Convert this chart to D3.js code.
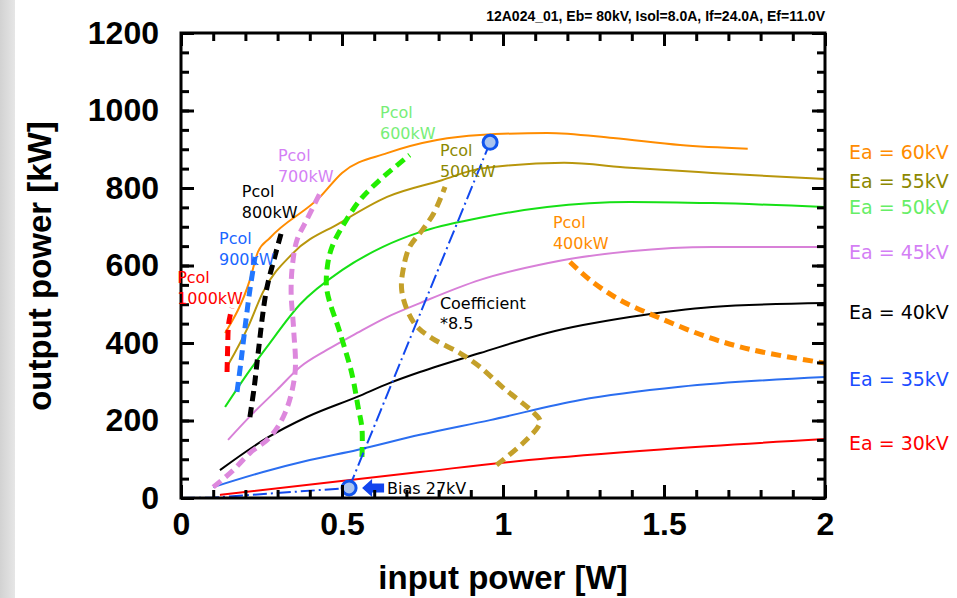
<!DOCTYPE html>
<html>
<head>
<meta charset="utf-8">
<script src="https://cdn.jsdelivr.net/npm/d3@7"></script>
<style>
  body { margin: 0; background: #fff; }
  svg { display: block; }
</style>
</head>
<body>
<div id="chart"></div>
<script>
const title = '12A024_01, Eb= 80kV, Isol=8.0A, If=24.0A, Ef=11.0V';
const xTicks = [0, 0.5, 1, 1.5, 2];
const yTicks = [0, 200, 400, 600, 800, 1000, 1200];

// output power vs input power, one curve per anode voltage  [W, kW]
const ea60 = [[0.137,426],[0.214,563],[0.239,635],[0.276,671],[0.432,777],[0.5,839],[0.64,890],[0.795,924],[0.929,937],[1.137,942],[1.342,929],[1.55,911],[1.76,901]];
const ea55 = [[0.146,343],[0.208,441],[0.255,532],[0.348,632],[0.494,710],[0.64,777],[0.81,820],[0.929,850],[1.19,865],[1.394,852],[1.65,839],[2.0,823]];
const ea50 = [[0.137,235],[0.214,330],[0.267,390],[0.37,500],[0.5,588],[0.627,648],[0.742,686],[0.929,723],[1.137,751],[1.394,764],[1.65,761],[2.0,751]];
const ea45 = [[0.146,150],[0.224,219],[0.298,279],[0.37,338],[0.453,382],[0.547,426],[0.64,467],[0.742,503],[0.929,563],[1.137,606],[1.394,637],[1.65,648],[2.0,648]];
const ea40 = [[0.121,72],[0.267,155],[0.391,209],[0.547,261],[0.649,297],[0.742,325],[0.929,374],[1.137,426],[1.394,467],[1.65,493],[2.0,503]];
const ea35 = [[0.1,28],[0.255,67],[0.4,98],[0.547,124],[0.742,163],[0.96,201],[1.24,253],[1.55,287],[2.0,312]];
const ea30 = [[0.121,8],[0.742,67],[1.08,98],[1.5,126],[2.0,152]];
const eaLabels = ['Ea = 60kV','Ea = 55kV','Ea = 50kV','Ea = 45kV','Ea = 40kV','Ea = 35kV','Ea = 30kV'];

// constant collector power contours
const pcol1000 = [[0.143,325],[0.145,390],[0.148,450],[0.158,490]];
const pcol900 = [[0.174,274],[0.186,350],[0.199,441],[0.214,537],[0.23,622]];
const pcol800 = [[0.214,209],[0.228,290],[0.239,370],[0.265,535],[0.292,625],[0.314,692]];
const pcol700 = [[0.1,28],[0.16,70],[0.214,116],[0.276,157],[0.323,219],[0.354,322],[0.35,433],[0.342,530],[0.346,600],[0.36,665],[0.39,717],[0.432,787]];
const pcol600 = [[0.562,106],[0.562,180],[0.55,235],[0.53,323],[0.494,426],[0.453,537],[0.455,600],[0.469,648],[0.5,699],[0.556,769],[0.618,821],[0.71,885]];
const pcol500 = [[0.98,85],[1.06,140],[1.11,185],[1.115,200],[1.093,222],[1.0,285],[0.929,338],[0.866,374],[0.78,412],[0.73,445],[0.70,490],[0.685,540],[0.69,590],[0.71,648],[0.75,692],[0.785,735],[0.82,803]];
const pcol400 = [[1.208,609],[1.27,563],[1.363,511],[1.488,464],[1.633,416],[1.776,382],[2.0,348]];
const pcolLabels = ['1000kW','900kW','800kW','700kW','600kW','500kW','400kW'];

// load line, coefficient *8.5
const biasLine = [[0,0],[0.1,1],[0.522,26]];
const coefLine = [[0.522,26],[0.96,918]];
const biasLabel = 'Bias 27kV';

const width = 957, height = 598;
const x = d3.scaleLinear().domain([0, 2]).range([181, 825]);
const y = d3.scaleLinear().domain([0, 1200]).range([498, 33]);

const svg = d3.select('#chart').append('svg')
  .attr('width', width).attr('height', height);

// gray strip at the left edge
const grad = svg.append('defs').append('linearGradient').attr('id', 'strip');
grad.append('stop').attr('offset', '0%').attr('stop-color', '#d2d2d2');
grad.append('stop').attr('offset', '100%').attr('stop-color', '#e6e6e6');
svg.append('rect').attr('x', 0).attr('y', 0).attr('width', 15).attr('height', height).attr('fill', 'url(#strip)');

const line = d3.line().x(d => x(d[0])).y(d => y(d[1]));
const eaLine = d3.line().x(d => x(d[0])).y(d => y(d[1])).curve(d3.curveMonotoneX);
const dashLine = d3.line().x(d => x(d[0])).y(d => y(d[1])).curve(d3.curveCatmullRom);

const eaSeries = [ea60, ea55, ea50, ea45, ea40, ea35, ea30];
const eaColors = ['#ff8c00', '#b8960c', '#16e016', '#d880d8', '#000000', '#2b6ef0', '#ff0000'];
const eaTextColors = ['#ff8c00', '#8c8800', '#66ee66', '#d47ff5', '#000000', '#1a4cff', '#ff0000'];
const eaLabelY = [893, 818, 751, 635, 480, 305, 142];

svg.append('g').selectAll('path')
  .data(eaSeries)
  .enter().append('path')
  .attr('d', eaLine)
  .attr('fill', 'none')
  .attr('stroke', (_, i) => eaColors[i])
  .attr('stroke-width', 2)
  .attr('stroke-linejoin', 'round');

const pcolSeries = [pcol1000, pcol900, pcol800, pcol700, pcol600, pcol500, pcol400];
const pcolColors = ['#ff0000', '#2277ff', '#000000', '#dd88dd', '#22ee00', '#c4a02a', '#ff8c00'];
const pcolTextColors = ['#ff0000', '#1a66ff', '#000000', '#d47ff5', '#77ee77', '#8c8800', '#ff8c00'];
const pcolLabelPos = [[-0.012,570],[0.118,671],[0.189,790],[0.301,885],[0.618,994],[0.804,898],[1.155,710]];

svg.append('g').selectAll('path')
  .data(pcolSeries)
  .enter().append('path')
  .attr('d', dashLine)
  .attr('fill', 'none')
  .attr('stroke', (_, i) => pcolColors[i])
  .attr('stroke-width', 5)
  .attr('stroke-dasharray', '10,6');

// coefficient line with bias point
const dashDot = '14,4,2,4';
svg.append('path').attr('d', line(biasLine))
  .attr('fill', 'none').attr('stroke', '#1148ee').attr('stroke-width', 2).attr('stroke-dasharray', dashDot);
svg.append('path').attr('d', line(coefLine))
  .attr('fill', 'none').attr('stroke', '#1148ee').attr('stroke-width', 2).attr('stroke-dasharray', dashDot);

svg.append('g').selectAll('circle')
  .data(coefLine)
  .enter().append('circle')
  .attr('cx', d => x(d[0])).attr('cy', d => y(d[1]))
  .attr('r', 7)
  .attr('fill', '#aac4ee')
  .attr('stroke', '#1155ee')
  .attr('stroke-width', 3);

// arrow pointing at the bias point
const bx = x(biasLine[2][0]) + 13, by = y(biasLine[2][1]);
svg.append('path')
  .attr('d', `M${bx},${by} L${bx+10},${by-9} L${bx+10},${by-4.5} L${bx+22},${by-4.5} L${bx+22},${by+4.5} L${bx+10},${by+4.5} L${bx+10},${by+9} Z`)
  .attr('fill', '#1144ee');
svg.append('text')
  .attr('x', bx + 25).attr('y', by)
  .attr('dy', '0.35em')
  .style('font-family', 'DejaVu Sans')
  .style('font-size', '16px')
  .text(biasLabel);

// plot frame and ticks
const frame = svg.append('g');
const xMinor = d3.range(0, 2.0001, 0.1);
const yMinor = d3.range(0, 1200.001, 50);
const addTicks = (axis, vals, size) => frame.append('g').call(axis.tickValues(vals).tickSize(size).tickFormat(''));
addTicks(d3.axisBottom(x), xMinor, -8).attr('transform', 'translate(0,498)');
addTicks(d3.axisBottom(x), xTicks, -13).attr('transform', 'translate(0,498)');
addTicks(d3.axisTop(x), xMinor, -8).attr('transform', 'translate(0,33)');
addTicks(d3.axisTop(x), xTicks, -13).attr('transform', 'translate(0,33)');
addTicks(d3.axisLeft(y), yMinor, -8).attr('transform', 'translate(181,0)');
addTicks(d3.axisLeft(y), yTicks, -13).attr('transform', 'translate(181,0)');
addTicks(d3.axisRight(y), yMinor, -8).attr('transform', 'translate(825,0)');
addTicks(d3.axisRight(y), yTicks, -13).attr('transform', 'translate(825,0)');
frame.selectAll('.domain').remove();
frame.selectAll('line').attr('stroke', '#000').attr('stroke-width', 3);
frame.append('rect')
  .attr('x', 181).attr('y', 33).attr('width', 644).attr('height', 465)
  .attr('fill', 'none').attr('stroke', '#000').attr('stroke-width', 3);

// tick labels
const xAxis = svg.append('g').attr('transform', 'translate(0,498)')
  .call(d3.axisBottom(x).tickValues(xTicks).tickSize(0).tickPadding(14).tickFormat(d3.format('')));
const yAxis = svg.append('g').attr('transform', 'translate(181,0)')
  .call(d3.axisLeft(y).tickValues(yTicks).tickSize(0).tickPadding(22).tickFormat(d3.format('d')));
[xAxis, yAxis].forEach(g => {
  g.select('.domain').remove();
  g.selectAll('text')
    .style('font-family', 'Liberation Sans, Arial, sans-serif')
    .style('font-weight', 'bold')
    .style('font-size', '32px')
    .attr('fill', '#000');
});

// axis titles
svg.append('text')
  .attr('x', 503).attr('y', 589)
  .attr('text-anchor', 'middle')
  .style('font-family', 'Liberation Sans, Arial, sans-serif')
  .style('font-weight', 'bold').style('font-size', '33px')
  .text('input power [W]');
svg.append('text')
  .attr('transform', 'translate(51,266) rotate(-90)')
  .attr('text-anchor', 'middle')
  .style('font-family', 'Liberation Sans, Arial, sans-serif')
  .style('font-weight', 'bold').style('font-size', '33px')
  .text('output power [kW]');

svg.append('text')
  .attr('x', 825).attr('y', 21)
  .attr('text-anchor', 'end')
  .style('font-family', 'Liberation Sans, Arial, sans-serif')
  .style('font-weight', 'bold').style('font-size', '14px')
  .text(title);

// Ea labels right of the frame
svg.append('g').selectAll('text')
  .data(eaLabels)
  .enter().append('text')
  .attr('x', 849)
  .attr('y', (_, i) => y(eaLabelY[i]))
  .attr('dy', '0.35em')
  .style('font-family', 'DejaVu Sans')
  .style('font-size', '19px')
  .attr('fill', (_, i) => eaTextColors[i])
  .text(d => d);

// Pcol labels
const pl = svg.append('g').selectAll('text')
  .data(pcolLabels)
  .enter().append('text')
  .style('font-family', 'DejaVu Sans')
  .style('font-size', '16px')
  .attr('fill', (_, i) => pcolTextColors[i]);
pl.append('tspan')
  .attr('x', (_, i) => x(pcolLabelPos[i][0]))
  .attr('y', (_, i) => y(pcolLabelPos[i][1]))
  .attr('dy', '0.35em')
  .text('Pcol');
pl.append('tspan')
  .attr('x', (_, i) => x(pcolLabelPos[i][0]))
  .attr('y', (_, i) => y(pcolLabelPos[i][1]) + 21)
  .attr('dy', '0.35em')
  .text(d => d);

const coef = svg.append('text')
  .style('font-family', 'DejaVu Sans')
  .style('font-size', '16px');
coef.append('tspan').attr('x', x(0.804)).attr('y', y(503)).attr('dy', '0.35em').text('Coefficient');
coef.append('tspan').attr('x', x(0.804)).attr('y', y(503) + 20).attr('dy', '0.35em').text('*8.5');
</script>
</body>
</html>
